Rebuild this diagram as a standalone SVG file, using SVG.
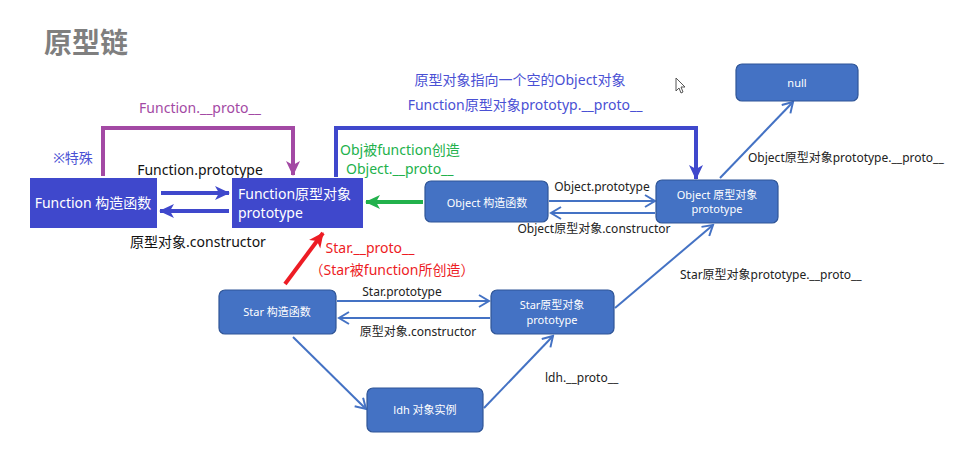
<svg xmlns="http://www.w3.org/2000/svg" width="973" height="465" viewBox="0 0 973 465">
<style>
text{font-family:"Noto Sans","Noto Sans CJK SC",sans-serif;}
.t14{font-size:14px;}
.t12{font-size:12px;}
.wb{fill:#ffffff;font-size:14px;}
.ws{fill:#ffffff;font-size:11px;}
.fbox{fill:#3f48cc;}
.obox{fill:#4472c4;stroke:#2f5597;stroke-width:1.2;}
.thick{fill:none;stroke:#3f48cc;stroke-width:4;}
.thin{fill:none;stroke:#4472c4;stroke-width:2;}
</style>
<defs>
<marker id="hb" markerUnits="userSpaceOnUse" markerWidth="16" markerHeight="16" viewBox="0 0 16 16" refX="14" refY="8" orient="auto">
<path d="M0,1 L15,8 L0,15 L4,8 Z" fill="#3f48cc"/>
</marker>
<marker id="hp" markerUnits="userSpaceOnUse" markerWidth="16" markerHeight="16" viewBox="0 0 16 16" refX="14" refY="8" orient="auto">
<path d="M0,1 L15,8 L0,15 L4,8 Z" fill="#a349a4"/>
</marker>
<marker id="hg" markerUnits="userSpaceOnUse" markerWidth="16" markerHeight="16" viewBox="0 0 16 16" refX="14" refY="8" orient="auto">
<path d="M0,1 L15,8 L0,15 L4,8 Z" fill="#22b14c"/>
</marker>
<marker id="hr" markerUnits="userSpaceOnUse" markerWidth="16" markerHeight="16" viewBox="0 0 16 16" refX="14" refY="8" orient="auto">
<path d="M0,1 L15,8 L0,15 L4,8 Z" fill="#ed1c24"/>
</marker>
<marker id="ht" markerUnits="userSpaceOnUse" markerWidth="14" markerHeight="14" viewBox="0 0 14 14" refX="12" refY="7" orient="auto">
<path d="M2,1 L12,7 L2,13" fill="none" stroke="#4472c4" stroke-width="2"/>
</marker>
</defs>
<rect width="973" height="465" fill="#ffffff"/>
<text x="44" y="53" style="font-size:28px;font-weight:bold;fill:#7f7f7f">原型链</text>

<g id="connectors">
<path class="thick" d="M161,193 H229" marker-end="url(#hb)"/>
<path class="thick" d="M229,211 H160" marker-end="url(#hb)"/>
<path d="M103,176 V128 H293 V175" fill="none" stroke="#a349a4" stroke-width="4" marker-end="url(#hp)"/>
<path class="thick" d="M336,177 V128 H696 V179" marker-end="url(#hb)"/>
<path d="M423,202 H366" fill="none" stroke="#22b14c" stroke-width="4" marker-end="url(#hg)"/>
<path d="M285,284 L323,233" fill="none" stroke="#ed1c24" stroke-width="4" marker-end="url(#hr)"/>
<path class="thin" d="M549,201 H655" marker-end="url(#ht)"/>
<path class="thin" d="M655,213 H551" marker-end="url(#ht)"/>
<path class="thin" d="M720,178 L793,102" marker-end="url(#ht)"/>
<path class="thin" d="M337,301 H489" marker-end="url(#ht)"/>
<path class="thin" d="M490,318 H339" marker-end="url(#ht)"/>
<path class="thin" d="M615,308 L713,225" marker-end="url(#ht)"/>
<path class="thin" d="M293,337 L366,409" marker-end="url(#ht)"/>
<path class="thin" d="M484,408 L553,336" marker-end="url(#ht)"/>
</g>

<g id="labels">
<text x="200" y="113" class="t14" fill="#a349a4" text-anchor="middle">Function.__proto__</text>
<text x="73" y="163" class="t14" fill="#4a50d4" text-anchor="middle">※特殊</text>
<text x="200" y="175" class="t14" fill="#111111" text-anchor="middle">Function.prototype</text>
<text x="198" y="247" class="t14" fill="#111111" text-anchor="middle">原型对象.constructor</text>
<text x="520" y="85" class="t14" fill="#4a50d4" text-anchor="middle">原型对象指向一个空的Object对象</text>
<text x="525" y="110" class="t14" fill="#4a50d4" text-anchor="middle">Function原型对象prototyp.__proto__</text>
<text x="340" y="155" class="t14" fill="#22b14c">Obj被function创造</text>
<text x="346" y="174" class="t14" fill="#22b14c">Object.__proto__</text>
<text x="602" y="191" class="t12" fill="#222222" text-anchor="middle">Object.prototype</text>
<text x="594" y="233" class="t12" fill="#222222" text-anchor="middle">Object原型对象.constructor</text>
<text x="748" y="162" class="t12" fill="#222222">Object原型对象prototype.__proto__</text>
<text x="370" y="253" class="t14" fill="#ed1c24" text-anchor="middle">Star.__proto__</text>
<text x="392" y="275" class="t14" fill="#ed1c24" text-anchor="middle">（Star被function所创造）</text>
<text x="402" y="296" class="t12" fill="#222222" text-anchor="middle">Star.prototype</text>
<text x="418" y="336" class="t12" fill="#222222" text-anchor="middle">原型对象.constructor</text>
<text x="680" y="279" class="t12" fill="#222222">Star原型对象prototype.__proto__</text>
<text x="545" y="382" class="t12" fill="#222222">ldh.__proto__</text>
</g>

<g id="function-ctor">
<rect class="fbox" x="30" y="178" width="127" height="50"/>
<text x="93" y="208" class="wb" text-anchor="middle">Function 构造函数</text>
</g>
<g id="function-proto">
<rect class="fbox" x="232" y="178" width="131" height="50"/>
<text x="238" y="199" class="wb">Function原型对象</text>
<text x="238" y="218" class="wb">prototype</text>
</g>
<g id="object-ctor">
<rect class="obox" x="425" y="181" width="123" height="41" rx="6"/>
<text x="487" y="207" class="ws" text-anchor="middle">Object 构造函数</text>
</g>
<g id="object-proto">
<rect class="obox" x="656" y="180" width="122" height="43" rx="6"/>
<text x="717" y="199" class="ws" text-anchor="middle">Object 原型对象</text>
<text x="717" y="213" class="ws" text-anchor="middle">prototype</text>
</g>
<g id="null">
<rect class="obox" x="736" y="64" width="122" height="37" rx="6"/>
<text x="797" y="87" class="ws" text-anchor="middle">null</text>
</g>
<g id="star-ctor">
<rect class="obox" x="219" y="290" width="117" height="44" rx="6"/>
<text x="277" y="316" class="ws" text-anchor="middle">Star 构造函数</text>
</g>
<g id="star-proto">
<rect class="obox" x="491" y="290" width="123" height="44" rx="6"/>
<text x="552" y="309" class="ws" text-anchor="middle">Star原型对象</text>
<text x="552" y="324" class="ws" text-anchor="middle">prototype</text>
</g>
<g id="ldh">
<rect class="obox" x="367" y="388" width="116" height="44" rx="6"/>
<text x="425" y="414" class="ws" text-anchor="middle">ldh 对象实例</text>
</g>
<path d="M676,78 V91 L679,88 L681,93 L683,92 L681,87 L685,87 Z" fill="#ffffff" stroke="#555555" stroke-width="1"/>
</svg>
